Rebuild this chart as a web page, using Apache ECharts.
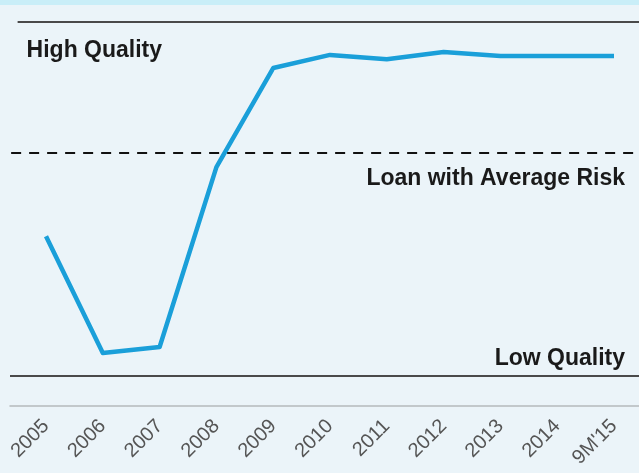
<!DOCTYPE html>
<html>
<head>
<meta charset="utf-8">
<script src="https://cdn.jsdelivr.net/npm/echarts@6/dist/echarts.min.js"></script>
<style>
  html, body { margin: 0; padding: 0; background: #ebf4f9; }
  #chart { width: 639px; height: 473px; }
</style>
</head>
<body>
<div id="chart"></div>
<script>
// Loan quality index by year (0 = low quality floor, 100 = high quality ceiling)
const categories = ['2005', '2006', '2007', '2008', '2009', '2010', '2011', '2012', '2013', '2014', "9M'15"];
const qualityIndex = [39.5, 6.5, 8.2, 59.0, 87.0, 90.7, 89.5, 91.5, 90.4, 90.4, 90.4];
const highQualityLevel = 100;
const averageRiskLevel = 63.0;
const lowQualityLevel = 0;

const labelFont = '"Liberation Sans", Arial, Helvetica, sans-serif';
const xMin = -0.634;
const xMax = 10.44;

const chart = echarts.init(document.getElementById('chart'), null, { renderer: 'canvas' });

chart.setOption({
  backgroundColor: '#ebf4f9',
  animation: false,
  graphic: [{
    type: 'rect',
    shape: { x: 0, y: 0, width: 639, height: 5 },
    style: { fill: '#c9eef8' },
    silent: true
  }],
  grid: { left: 10, right: 0, top: 22, bottom: 67 },
  xAxis: {
    type: 'value',
    min: xMin,
    max: xMax,
    axisLine: { show: true, onZero: false, lineStyle: { color: '#b5b9bc', width: 1.5 } },
    axisTick: { show: false },
    splitLine: { show: false },
    axisLabel: {
      customValues: categories.map((c, i) => i),
      formatter: v => categories[Math.round(v)] || '',
      rotate: 45,
      margin: 17,
      color: '#555555',
      fontSize: 20,
      fontFamily: labelFont
    }
  },
  yAxis: {
    type: 'value',
    min: -8.47,
    max: 100,
    show: false,
    splitLine: { show: false }
  },
  series: [{
    type: 'line',
    data: qualityIndex.map((v, i) => [i, v]),
    symbol: 'none',
    lineStyle: { color: '#1a9fd9', width: 4.5, join: 'round' },
    markLine: {
      silent: true,
      symbol: 'none',
      label: {
        color: '#1a1a1a',
        fontSize: 23,
        fontWeight: 'bold',
        fontFamily: labelFont
      },
      data: [
        [
          {
            coord: [-0.5, highQualityLevel],
            lineStyle: { color: '#4a4a4a', width: 2, type: 'solid' },
            label: { formatter: 'High Quality', position: 'insideStartBottom', distance: [9, 17] }
          },
          { coord: [xMax, highQualityLevel] }
        ],
        [
          {
            coord: [xMin + 0.02, averageRiskLevel],
            lineStyle: { color: '#111111', width: 2, type: [10, 8] },
            label: { formatter: 'Loan with Average Risk', position: 'insideEndBottom', distance: [14, 14] }
          },
          { coord: [xMax, averageRiskLevel] }
        ],
        [
          {
            coord: [xMin, lowQualityLevel],
            lineStyle: { color: '#4a4a4a', width: 2, type: 'solid' },
            label: { formatter: 'Low Quality', position: 'insideEndTop', distance: [14, 6] }
          },
          { coord: [xMax, lowQualityLevel] }
        ]
      ]
    }
  }]
});
</script>
</body>
</html>
